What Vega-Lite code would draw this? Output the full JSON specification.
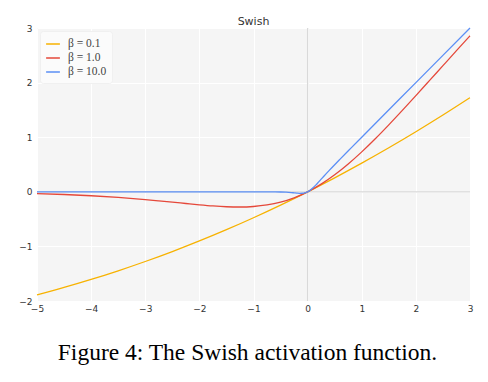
{
  "$schema": "https://vega.github.io/schema/vega-lite/v6.json",
  "width": 433,
  "height": 273,
  "autosize": {"type": "none"},
  "padding": {"left": 37, "top": 28, "right": 18, "bottom": 81},
  "background": "white",
  "title": {"text": "Swish", "font": "DejaVu Sans", "fontSize": 11, "fontWeight": "normal", "color": "#333333", "offset": -3},
  "config": {
    "view": {"fill": "#f5f5f5", "stroke": null},
    "axis": {"domain": false, "ticks": false, "grid": true, "gridColor": "#ffffff", "gridWidth": 1, "labelFont": "DejaVu Sans", "labelFontSize": 9, "labelColor": "#333333", "labelFlush": false},
    "legend": {"orient": "top-left", "offset": 3, "padding": 5, "fillColor": "#fbfbfb", "strokeColor": "#f0f0f0", "cornerRadius": 3, "symbolType": "stroke", "symbolSize": 190, "symbolStrokeWidth": 1.5, "labelFont": "Liberation Serif", "labelFontSize": 11.5, "labelColor": "#444444", "rowPadding": 0, "labelOffset": 7}
  },
  "layer": [
    {
      "data": {"values": [{"z": 0}]},
      "mark": {"type": "rule", "color": "#d9d9d9", "strokeWidth": 1.3},
      "encoding": {"x": {"field": "z", "type": "quantitative", "scale": {"domain": [-5, 3], "nice": false}}}
    },
    {
      "data": {"values": [{"z": 0}]},
      "mark": {"type": "rule", "color": "#d9d9d9", "strokeWidth": 1.3},
      "encoding": {"y": {"field": "z", "type": "quantitative", "scale": {"domain": [-2, 3], "nice": false}}}
    },
    {
      "data": {"values": [
        {"x": -5, "y": -1.8877, "b": "β = 0.1"},
        {"x": -4.5, "y": -1.7521, "b": "β = 0.1"},
        {"x": -4, "y": -1.6052, "b": "β = 0.1"},
        {"x": -3.5, "y": -1.4468, "b": "β = 0.1"},
        {"x": -3, "y": -1.2767, "b": "β = 0.1"},
        {"x": -2.5, "y": -1.0946, "b": "β = 0.1"},
        {"x": -2, "y": -0.9003, "b": "β = 0.1"},
        {"x": -1.5, "y": -0.6939, "b": "β = 0.1"},
        {"x": -1, "y": -0.475, "b": "β = 0.1"},
        {"x": -0.5, "y": -0.2438, "b": "β = 0.1"},
        {"x": 0, "y": 0, "b": "β = 0.1"},
        {"x": 0.5, "y": 0.2563, "b": "β = 0.1"},
        {"x": 1, "y": 0.525, "b": "β = 0.1"},
        {"x": 1.5, "y": 0.8061, "b": "β = 0.1"},
        {"x": 2, "y": 1.0997, "b": "β = 0.1"},
        {"x": 2.5, "y": 1.4055, "b": "β = 0.1"},
        {"x": 3, "y": 1.7233, "b": "β = 0.1"},

        {"x": -5, "y": -0.0335, "b": "β = 1.0"},
        {"x": -4.5, "y": -0.0494, "b": "β = 1.0"},
        {"x": -4, "y": -0.0719, "b": "β = 1.0"},
        {"x": -3.5, "y": -0.1026, "b": "β = 1.0"},
        {"x": -3, "y": -0.1423, "b": "β = 1.0"},
        {"x": -2.75, "y": -0.1652, "b": "β = 1.0"},
        {"x": -2.5, "y": -0.1897, "b": "β = 1.0"},
        {"x": -2.25, "y": -0.2145, "b": "β = 1.0"},
        {"x": -2, "y": -0.2384, "b": "β = 1.0"},
        {"x": -1.75, "y": -0.2591, "b": "β = 1.0"},
        {"x": -1.5, "y": -0.2736, "b": "β = 1.0"},
        {"x": -1.25, "y": -0.2784, "b": "β = 1.0"},
        {"x": -1, "y": -0.2689, "b": "β = 1.0"},
        {"x": -0.75, "y": -0.2406, "b": "β = 1.0"},
        {"x": -0.5, "y": -0.1888, "b": "β = 1.0"},
        {"x": -0.25, "y": -0.1095, "b": "β = 1.0"},
        {"x": 0, "y": 0, "b": "β = 1.0"},
        {"x": 0.25, "y": 0.1405, "b": "β = 1.0"},
        {"x": 0.5, "y": 0.3112, "b": "β = 1.0"},
        {"x": 0.75, "y": 0.5094, "b": "β = 1.0"},
        {"x": 1, "y": 0.7311, "b": "β = 1.0"},
        {"x": 1.25, "y": 0.9716, "b": "β = 1.0"},
        {"x": 1.5, "y": 1.2264, "b": "β = 1.0"},
        {"x": 1.75, "y": 1.4909, "b": "β = 1.0"},
        {"x": 2, "y": 1.7616, "b": "β = 1.0"},
        {"x": 2.25, "y": 2.0355, "b": "β = 1.0"},
        {"x": 2.5, "y": 2.3104, "b": "β = 1.0"},
        {"x": 2.75, "y": 2.5848, "b": "β = 1.0"},
        {"x": 3, "y": 2.8577, "b": "β = 1.0"},

        {"x": -5, "y": 0, "b": "β = 10.0"},
        {"x": -2, "y": 0, "b": "β = 10.0"},
        {"x": -1, "y": -0.0001, "b": "β = 10.0"},
        {"x": -0.8, "y": -0.0003, "b": "β = 10.0"},
        {"x": -0.7, "y": -0.0006, "b": "β = 10.0"},
        {"x": -0.6, "y": -0.0015, "b": "β = 10.0"},
        {"x": -0.5, "y": -0.0034, "b": "β = 10.0"},
        {"x": -0.4, "y": -0.0072, "b": "β = 10.0"},
        {"x": -0.3, "y": -0.0142, "b": "β = 10.0"},
        {"x": -0.25, "y": -0.019, "b": "β = 10.0"},
        {"x": -0.2, "y": -0.0238, "b": "β = 10.0"},
        {"x": -0.15, "y": -0.0274, "b": "β = 10.0"},
        {"x": -0.1, "y": -0.0269, "b": "β = 10.0"},
        {"x": -0.05, "y": -0.0189, "b": "β = 10.0"},
        {"x": 0, "y": 0, "b": "β = 10.0"},
        {"x": 0.05, "y": 0.0311, "b": "β = 10.0"},
        {"x": 0.1, "y": 0.0731, "b": "β = 10.0"},
        {"x": 0.15, "y": 0.1226, "b": "β = 10.0"},
        {"x": 0.2, "y": 0.1762, "b": "β = 10.0"},
        {"x": 0.25, "y": 0.231, "b": "β = 10.0"},
        {"x": 0.3, "y": 0.2858, "b": "β = 10.0"},
        {"x": 0.4, "y": 0.3928, "b": "β = 10.0"},
        {"x": 0.5, "y": 0.4967, "b": "β = 10.0"},
        {"x": 0.6, "y": 0.5985, "b": "β = 10.0"},
        {"x": 0.8, "y": 0.7997, "b": "β = 10.0"},
        {"x": 1, "y": 1.0, "b": "β = 10.0"},
        {"x": 2, "y": 2.0, "b": "β = 10.0"},
        {"x": 3, "y": 3.0, "b": "β = 10.0"}
      ]},
      "mark": {"type": "line", "strokeWidth": 1.3, "interpolate": "monotone"},
      "encoding": {
        "x": {"field": "x", "type": "quantitative", "scale": {"domain": [-5, 3], "nice": false},
              "axis": {"values": [-5, -4, -3, -2, -1, 0, 1, 2, 3], "labelPadding": 3,
                       "title": "Figure 4: The Swish activation function.", "titleFont": "Liberation Serif", "titleFontSize": 23.5, "titleFontWeight": "normal", "titleColor": "#000000",
                       "titleX": 210, "titleY": 58, "titleBaseline": "alphabetic", "titleAlign": "center", "titleAnchor": null}},
        "y": {"field": "y", "type": "quantitative", "scale": {"domain": [-2, 3], "nice": false},
              "axis": {"values": [-2, -1, 0, 1, 2, 3], "labelPadding": 5, "title": null}},
        "color": {"field": "b", "type": "nominal", "scale": {"domain": ["β = 0.1", "β = 1.0", "β = 10.0"], "range": ["#F7B200", "#E5483A", "#5B8FF5"]},
                  "legend": {"title": null, "labelFont": "Liberation Serif", "labelFontSize": 11.5, "symbolSize": 190, "rowPadding": 0}}
      }
    }
  ]
}
